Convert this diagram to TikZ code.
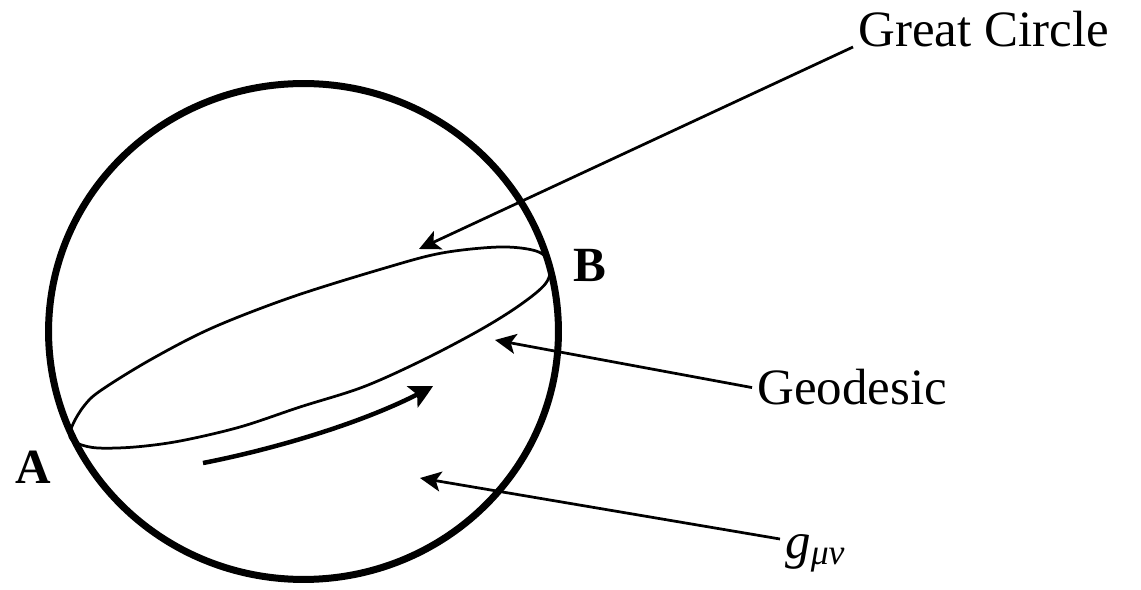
\documentclass[tikz,border=0pt]{standalone}
\usepackage{fontspec}
\setmainfont{Liberation Serif}
\usetikzlibrary{arrows.meta,bending}
\begin{document}
\begin{tikzpicture}[x=0.02cm,y=-0.02cm,
  pointer/.style={line width=0.055cm, -{Stealth[length=0.42cm,width=0.4cm,inset=0.1cm]}},
  lbl/.style={inner sep=0.1cm, font=\fontsize{29}{33}\selectfont},
  pt/.style={inner sep=0pt, font=\fontsize{28}{32}\selectfont\bfseries}]
\useasboundingbox (0,0) rectangle (1141,590);
\draw[line width=0.14cm] (303.5,331.5) ellipse [x radius=5.1cm, y radius=4.96cm];
% the great circle through A and B
\draw[line width=0.055cm] plot[smooth cycle, tension=0.55] coordinates {(70,437) (73,424) (84,406) (100,391) (150,360) (212,328) (292,297) (385,268) (442,253) (500,247) (536,251) (550,263) (546,283) (520,305) (480,330) (423,360) (363,387) (300,407) (240,427) (180,441) (135,447) (98,448) (79,444)};
\coordinate (gctip) at (419,249);
\coordinate (gdtip) at (495,340);
\coordinate (gmtip) at (420,478);
\node[lbl, anchor=base west] (gc) at (853,47) {Great Circle};
\node[lbl, anchor=base west] (gd) at (752,405) {Geodesic};
\node[lbl, anchor=base west] (gm) at (780,558) {\textit{g}\textsubscript{\textit{μν}}};
\node[pt, anchor=base west] (A) at (15,483) {A};
\node[pt, anchor=base west] (B) at (573,282) {B};
\draw[pointer] (gc.base west) -- (gctip);
\draw[pointer] (gd.west) -- (gdtip);
\draw[pointer] ([yshift=0.38cm]gm.base west) -- (gmtip);
% direction along the geodesic
\draw[line width=0.09cm, -{Stealth[length=0.46cm,width=0.47cm,inset=0.1cm,bend]}] (203,463) .. controls (270,450) and (370,422) .. (433,386);
\end{tikzpicture}
\end{document}
